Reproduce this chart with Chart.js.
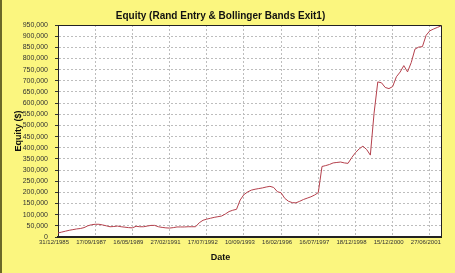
<!DOCTYPE html>
<html>
<head>
<meta charset="utf-8">
<script src="https://cdn.jsdelivr.net/npm/chart.js@4"></script>
<style>
  html, body { margin: 0; padding: 0; background: #fbf67f; }
</style>
</head>
<body>
<canvas id="myChart" width="455" height="273"></canvas>
<script>
const ctx = document.getElementById('myChart');

// tick dates, one every 10 trades
const dateLabels = ['31/12/1985', '17/09/1987', '16/05/1989', '27/02/1991', '17/07/1992',
  '10/09/1993', '16/02/1996', '16/07/1997', '18/12/1998', '15/12/2000', '27/06/2001'];

// equity axis ticks ($)
const yTicks = [0, 50000, 100000, 150000, 200000, 250000, 300000, 350000, 400000, 450000,
  500000, 550000, 600000, 650000, 700000, 750000, 800000, 850000, 900000, 950000];

// equity after each trade ($)
const equity = [18000, 22000, 26000, 30000, 33000, 36000, 38000, 42000, 50000, 55000,
  57000, 57000, 54000, 50000, 46000, 47000, 49000, 46000, 44000, 42000,
  41000, 48000, 46000, 46000, 49000, 52000, 52000, 46000, 43000, 41000,
  40000, 42000, 45000, 45000, 45000, 46000, 46000, 46000, 64000, 75000,
  80000, 84000, 88000, 91000, 94000, 103000, 114000, 120000, 124000, 166000,
  190000, 202000, 210000, 214000, 217000, 220000, 224000, 227000, 222000, 203000,
  198000, 173000, 160000, 154000, 153000, 160000, 168000, 174000, 180000, 188000,
  199000, 316000, 320000, 325000, 332000, 334000, 336000, 332000, 330000, 356000,
  378000, 395000, 407000, 392000, 367000, 555000, 695000, 691000, 670000, 665000,
  674000, 718000, 739000, 768000, 740000, 782000, 842000, 851000, 853000, 904000,
  924000, 932000, 939000, 946000];

const trades = equity.map((v, i) => i);

const bg = '#fbf67f';
const narrow = "'Liberation Sans Narrow', 'Liberation Sans', Arial, sans-serif";
const sans = "'Liberation Sans', Arial, sans-serif";

// yellow page, white plot, frame round the plot
const frame = {
  id: 'frame',
  beforeDraw(chart) {
    const c = chart.ctx, a = chart.chartArea;
    c.save();
    c.fillStyle = bg;
    c.fillRect(0, 0, chart.width, chart.height);
    c.fillStyle = '#6b6828';
    c.fillRect(0, 0, 2, chart.height);
    c.fillStyle = '#ffffff';
    c.fillRect(a.left, a.top, a.right - a.left, a.bottom - a.top);
    c.restore();
  },
  afterDraw(chart) {
    const c = chart.ctx, a = chart.chartArea;
    c.save();
    c.strokeStyle = '#222';
    c.lineWidth = 1;
    c.beginPath();
    c.moveTo(a.left, a.top + 0.5);
    c.lineTo(a.right + 0.5, a.top + 0.5);
    c.lineTo(a.right + 0.5, a.bottom);
    c.stroke();
    c.restore();
  }
};

function draw()
{
  new Chart(ctx, {
    type: 'line',
    data: {
      labels: trades,
      datasets: [{
        data: equity,
        borderColor: '#b4404c',
        borderWidth: 1,
        pointRadius: 0,
        tension: 0,
        fill: false
      }]
    },
    plugins: [frame],
    options: {
      responsive: false,
      animation: false,
      layout: { padding: { left: 0, right: 14, top: 0, bottom: 0 } },
      plugins: {
        legend: { display: false },
        tooltip: { enabled: false },
        title: {
          display: true,
          text: 'Equity (Rand Entry & Bollinger Bands Exit1)',
          color: '#111',
          font: { family: sans, size: 10, weight: 'bold' },
          padding: { top: 10.5, bottom: 2.5 }
        },
        subtitle: {
          display: true,
          position: 'bottom',
          text: 'Date',
          color: '#111',
          font: { family: sans, size: 9, weight: 'bold' },
          padding: { top: 4, bottom: 10 }
        }
      },
      scales: {
        x: {
          type: 'category',
          offset: false,
          afterFit: function(scale) { scale.height = 11.2; },
          grid: { color: '#bdbdbd', drawTicks: false },
          border: { color: '#222', width: 2, dash: [2, 2] },
          ticks: {
            autoSkip: false,
            maxRotation: 0,
            minRotation: 0,
            padding: 2,
            labelOffset: -4,
            color: '#333',
            font: { family: narrow, size: 6 },
            callback: function(value, index) {
              return index % 10 === 0 ? dateLabels[index / 10] : null;
            }
          }
        },
        y: {
          min: 0,
          max: 950000,
          afterFit: function(scale) { scale.width = 58; },
          afterBuildTicks: function(scale) {
            scale.ticks = yTicks.map(v => ({ value: v }));
          },
          grid: { color: '#bdbdbd', tickLength: 3, tickColor: '#333', tickBorderDash: [] },
          border: { color: '#222', width: 1, dash: [2, 2] },
          ticks: {
            autoSkip: false,
            padding: 7,
            color: '#333',
            font: { family: narrow, size: 7 },
            callback: function(value) { return value.toLocaleString('en-US'); }
          },
          title: {
            display: true,
            text: 'Equity ($)',
            color: '#111',
            font: { family: sans, size: 9, weight: 'bold' },
            padding: { top: 13.6, bottom: 0 }
          }
        }
      }
    }
  });
}

draw();
</script>
</body>
</html>
